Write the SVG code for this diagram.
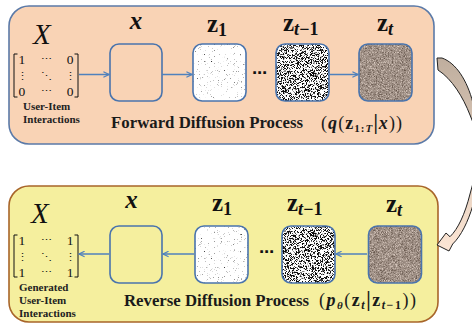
<svg xmlns="http://www.w3.org/2000/svg" width="472" height="324" viewBox="0 0 472 324">
<style>
.panelF{fill:#f9d3b5;stroke:#5b7aa8;stroke-width:1.6}
.panelR{fill:#f5ef9e;stroke:#a8652a;stroke-width:1.6}
.box{fill:none;stroke:#4a74ad;stroke-width:1.6}
.wbg{fill:#ffffff}
.conn{stroke:#4f81bd;stroke-width:1.5;fill:none}
.bigX{font-family:"Liberation Serif",serif;font-style:italic;font-size:29px;fill:#111}
.lbl{font-family:"Liberation Serif",serif;font-weight:bold;font-size:25px;fill:#111}
.it{font-style:italic}
.sub{font-size:18px}
.mat{font-family:"Liberation Serif","DejaVu Serif",serif;font-size:13.5px;fill:#111}
.dots{font-family:"DejaVu Serif",serif;font-size:11px;fill:#111}
.small{font-family:"Liberation Serif",serif;font-weight:bold;font-size:11px;fill:#222}
.title{font-family:"Liberation Serif",serif;font-weight:bold;font-size:16.8px;fill:#1a1a1a}
.frm{font-family:"Liberation Serif",serif;font-size:18px;fill:#1a1a1a}
.b{font-weight:bold}
.ell{font-family:"DejaVu Sans",sans-serif;font-weight:bold;font-size:15px;fill:#111}
.brk{fill:none;stroke:#111;stroke-width:1}
</style>
<defs>
<marker id="ah" viewBox="0 0 10 10" refX="9" refY="5" markerWidth="7" markerHeight="7" orient="auto" markerUnits="userSpaceOnUse">
<path d="M1,1 L9,5 L1,9" fill="none" stroke="#4f81bd" stroke-width="1.6"/>
</marker>
<filter id="fSparse" x="0" y="0" width="100%" height="100%" color-interpolation-filters="sRGB">
<feTurbulence type="fractalNoise" baseFrequency="1.3" numOctaves="1" seed="7" result="n"/>
<feColorMatrix in="n" type="matrix" values="0 0 0 0 0.2  0 0 0 0 0.2  0 0 0 0 0.2  1 0 0 0 0" result="a"/>
<feComponentTransfer in="a"><feFuncA type="linear" slope="6" intercept="-3.9"/></feComponentTransfer>
<feComposite operator="in" in2="SourceGraphic"/>
</filter>
<filter id="fDense" x="0" y="0" width="100%" height="100%" color-interpolation-filters="sRGB">
<feTurbulence type="fractalNoise" baseFrequency="1.6" numOctaves="1" seed="3" result="n"/>
<feColorMatrix in="n" type="matrix" values="0 0 0 0 0.05  0 0 0 0 0.05  0 0 0 0 0.05  1 0 0 0 0" result="a"/>
<feComponentTransfer in="a"><feFuncA type="linear" slope="12" intercept="-5.9"/></feComponentTransfer>
<feComposite operator="in" in2="SourceGraphic"/>
</filter>
<filter id="fBrown" x="0" y="0" width="100%" height="100%" color-interpolation-filters="sRGB">
<feTurbulence type="fractalNoise" baseFrequency="1.5" numOctaves="1" seed="11" result="n"/>
<feColorMatrix in="n" type="matrix" values="0.75 0 0 0 0.25  0.75 0 0 0 0.19  0.75 0 0 0 0.15  0 0 0 0 1" result="c"/>
<feComposite in="c" operator="in" in2="SourceGraphic"/>
</filter>
<linearGradient id="gArrow" x1="0" y1="58" x2="0" y2="252" gradientUnits="userSpaceOnUse">
<stop offset="0" stop-color="#bfae9e"/>
<stop offset="1" stop-color="#fde6d5"/>
</linearGradient>
</defs>

<g id="panel-forward">
<rect class="panelF" x="9" y="6" width="425" height="138" rx="20"/>
<text class="title" x="111" y="128" textLength="192" lengthAdjust="spacingAndGlyphs">Forward Diffusion Process</text>
<text class="frm" x="321" y="129" textLength="81">(<tspan class="b it">q</tspan>(<tspan class="b">z</tspan><tspan class="b" font-size="11" dy="3">1:<tspan class="it">T</tspan></tspan><tspan class="b" font-size="20" dy="-3">|</tspan><tspan class="b it">x</tspan>))</text>
</g>

<g id="panel-reverse">
<rect class="panelR" x="9" y="186" width="429" height="136" rx="20"/>
<text class="title" x="124" y="306" textLength="185" lengthAdjust="spacingAndGlyphs">Reverse Diffusion Process</text>
<text class="frm" x="319" y="306" textLength="97">(<tspan class="b it">p</tspan><tspan class="b it" font-size="11" dy="3">θ</tspan><tspan dy="-3">(</tspan><tspan class="b">z</tspan><tspan class="b it" font-size="12" dy="3">t</tspan><tspan class="b" font-size="20" dy="-3">|</tspan><tspan class="b">z</tspan><tspan class="b" font-size="12" dy="3"><tspan class="it">t</tspan>−1</tspan><tspan dy="-3">))</tspan></text>
</g>

<g id="fwd-X">
<text class="bigX" x="33" y="44">X</text>
<path class="brk" d="M17.5,54 H14 V97 H17.5 M74.5,54 H78 V97 H74.5"/>
<text class="mat" x="18.5" y="64">1</text>
<text class="dots" x="46" y="63" text-anchor="middle">⋯</text>
<text class="mat" x="73.5" y="64" text-anchor="end">0</text>
<text class="dots" x="22" y="80" text-anchor="middle">⋮</text>
<text class="dots" x="46" y="80" text-anchor="middle">⋱</text>
<text class="dots" x="70" y="80" text-anchor="middle">⋮</text>
<text class="mat" x="18.5" y="96">0</text>
<text class="dots" x="46" y="95" text-anchor="middle">⋯</text>
<text class="mat" x="73.5" y="96" text-anchor="end">0</text>
<text class="small" x="23" y="110">User-Item</text>
<text class="small" x="23" y="123">Interactions</text>
</g>

<g id="fwd-x">
<text class="lbl it" x="136" y="29" text-anchor="middle">x</text>
<rect class="box" x="110" y="44" width="52" height="57" rx="9"/>
</g>

<g id="fwd-z1">
<text class="lbl" x="207" y="31.5">z<tspan class="sub" dy="4">1</tspan></text>
<rect class="wbg" x="193" y="44" width="53" height="57" rx="9"/>
<rect x="193" y="44" width="53" height="57" rx="9" fill="#000" filter="url(#fSparse)"/>
<rect class="box" x="193" y="44" width="53" height="57" rx="9"/>
</g>

<g id="fwd-zt1">
<text class="lbl" x="283" y="30.5">z<tspan class="sub" dy="4"><tspan class="it">t</tspan>−1</tspan></text>
<rect class="wbg" x="276" y="44" width="53" height="57" rx="9"/>
<rect x="276" y="44" width="53" height="57" rx="9" fill="#000" filter="url(#fDense)"/>
<rect class="box" x="276" y="44" width="53" height="57" rx="9"/>
</g>

<g id="fwd-zt">
<text class="lbl" x="377" y="31">z<tspan class="sub it" dy="4">t</tspan></text>
<rect x="359" y="44" width="53" height="57" rx="9" fill="#998a80" filter="url(#fBrown)"/>
<rect class="box" x="359" y="44" width="53" height="57" rx="9"/>
</g>

<text class="ell" x="259.5" y="78" text-anchor="middle">⋯</text>

<g id="rev-X">
<text class="bigX" x="31" y="223">X</text>
<path class="brk" d="M17.5,235 H14 V277 H17.5 M74.5,235 H78 V277 H74.5"/>
<text class="mat" x="18.5" y="245">1</text>
<text class="dots" x="46" y="244" text-anchor="middle">⋯</text>
<text class="mat" x="73.5" y="245" text-anchor="end">1</text>
<text class="dots" x="22" y="261" text-anchor="middle">⋮</text>
<text class="dots" x="46" y="261" text-anchor="middle">⋱</text>
<text class="dots" x="70" y="261" text-anchor="middle">⋮</text>
<text class="mat" x="18.5" y="277">1</text>
<text class="dots" x="46" y="276" text-anchor="middle">⋯</text>
<text class="mat" x="73.5" y="277" text-anchor="end">1</text>
<text class="small" x="19" y="290.5">Generated</text>
<text class="small" x="19" y="304">User-Item</text>
<text class="small" x="19" y="317">Interactions</text>
</g>

<g id="rev-x">
<text class="lbl it" x="131.5" y="208" text-anchor="middle">x</text>
<rect class="box" x="110" y="226" width="52" height="57" rx="9"/>
</g>

<g id="rev-z1">
<text class="lbl" x="212" y="211">z<tspan class="sub" dy="4">1</tspan></text>
<rect class="wbg" x="195" y="226" width="53" height="57" rx="9"/>
<rect x="195" y="226" width="53" height="57" rx="9" fill="#000" filter="url(#fSparse)"/>
<rect class="box" x="195" y="226" width="53" height="57" rx="9"/>
</g>

<g id="rev-zt1">
<text class="lbl" x="287" y="211">z<tspan class="sub" dy="4"><tspan class="it">t</tspan>−1</tspan></text>
<rect class="wbg" x="282" y="226" width="53" height="57" rx="9"/>
<rect x="282" y="226" width="53" height="57" rx="9" fill="#000" filter="url(#fDense)"/>
<rect class="box" x="282" y="226" width="53" height="57" rx="9"/>
</g>

<g id="rev-zt">
<text class="lbl" x="386" y="212">z<tspan class="sub it" dy="4">t</tspan></text>
<rect x="368.5" y="226" width="53" height="57" rx="9" fill="#998a80" filter="url(#fBrown)"/>
<rect class="box" x="368.5" y="226" width="53" height="57" rx="9"/>
</g>

<text class="ell" x="266.5" y="257" text-anchor="middle">⋯</text>

<g id="connectors">
<line class="conn" x1="79" y1="74.5" x2="109" y2="74.5" marker-end="url(#ah)"/>
<line class="conn" x1="162" y1="74.5" x2="192" y2="74.5" marker-end="url(#ah)"/>
<line class="conn" x1="329" y1="74.5" x2="358" y2="74.5" marker-end="url(#ah)"/>
<line class="conn" x1="367" y1="254" x2="336" y2="254" marker-end="url(#ah)"/>
<line class="conn" x1="194" y1="254" x2="163" y2="254" marker-end="url(#ah)"/>
<line class="conn" x1="109" y1="254" x2="79" y2="254" marker-end="url(#ah)"/>
<path id="curved-arrow" d="M437,58 L442,58 C456,63 467,80 473,103 L492,150 L482,170 L473,205 C468,222 461,236 452.7,244 L449,251 L437,245 L446,233 L450,236.7 C458,229 465,214 470,194 L478,165 L484,150 L470,115 C463,97 452,79 438,70 Z" fill="url(#gArrow)" stroke="#222" stroke-width="1" stroke-linejoin="miter"/>
</g>
</svg>
